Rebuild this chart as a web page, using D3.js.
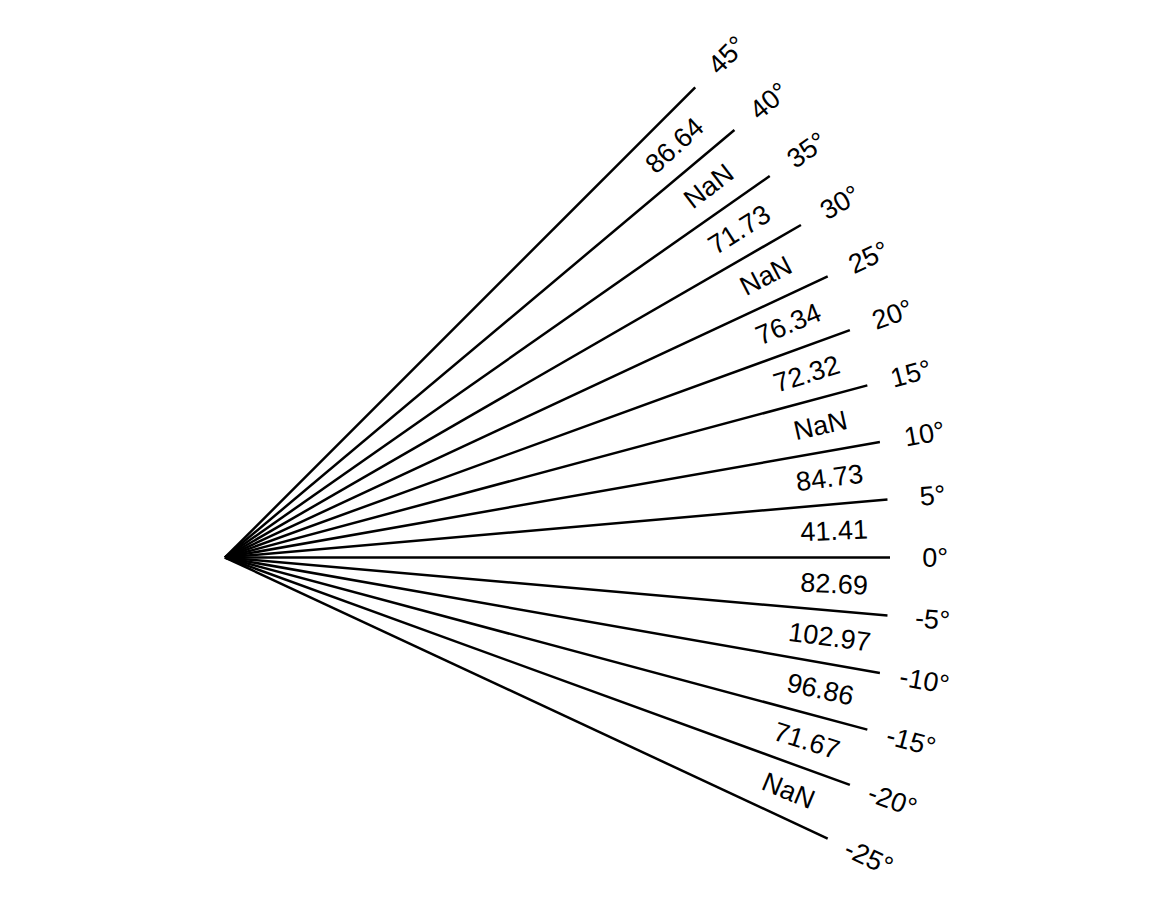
<!DOCTYPE html>
<html>
<head>
<meta charset="utf-8">
<script src="https://cdn.jsdelivr.net/npm/d3@7"></script>
<style>
html, body { margin: 0; padding: 0; background: #fff; }
svg { display: block; }
</style>
</head>
<body>
<svg id="chart" width="1152" height="921"></svg>
<script>
// Ray angles (degrees, counter-clockwise from east)
const angles = [-25, -20, -15, -10, -5, 0, 5, 10, 15, 20, 25, 30, 35, 40, 45];
// Angle tick labels
const angleLabels = ["-25°", "-20°", "-15°", "-10°", "-5°", "0°", "5°", "10°", "15°", "20°", "25°", "30°", "35°", "40°", "45°"];
// Values between consecutive rays (from -25..-20 up to 40..45)
const sectorValues = ["NaN", "71.67", "96.86", "102.97", "82.69", "41.41", "84.73", "NaN", "72.32", "76.34", "NaN", "71.73", "NaN", "86.64"];

const svg = d3.select("#chart");
const cx = 225, cy = 557.5;
const g = svg.append("g").attr("transform", `translate(${cx},${cy})`);

const rad = d3.scaleLinear().domain([0, 180]).range([0, Math.PI]);
const r = d3.scaleLinear().domain([0, 1]).range([0, 665]);

function pt(a, rr) {
  return d3.pointRadial(Math.PI / 2 - rad(a), rr);
}

// Rays
g.selectAll("line.ray")
  .data(angles)
  .join("line")
  .attr("class", "ray")
  .attr("x1", 0).attr("y1", 0)
  .attr("x2", d => pt(d, r(1))[0])
  .attr("y2", d => pt(d, r(1))[1])
  .attr("stroke", "#000")
  .attr("stroke-width", 2.5);

const font = "'Liberation Sans', Arial, Helvetica, sans-serif";

// Angle labels
g.selectAll("text.alabel")
  .data(angles)
  .join("text")
  .attr("class", "alabel")
  .attr("transform", d => {
    const p = pt(d, r(1.068));
    return `translate(${p[0]},${p[1]}) rotate(${-d})`;
  })
  .attr("text-anchor", "middle")
  .attr("dominant-baseline", "central")
  .style("font-family", font)
  .style("font-size", "27px")
  .text((d, i) => angleLabels[i]);

// Sector value labels
const mids = sectorValues.map((v, i) => ({ v, a: (angles[i] + angles[i + 1]) / 2 }));
g.selectAll("text.vlabel")
  .data(mids)
  .join("text")
  .attr("class", "vlabel")
  .attr("transform", d => {
    const p = pt(d.a, r(0.917));
    return `translate(${p[0]},${p[1]}) rotate(${-d.a})`;
  })
  .attr("text-anchor", "middle")
  .attr("dominant-baseline", "central")
  .style("font-family", font)
  .style("font-size", "27px")
  .text(d => d.v);
</script>
</body>
</html>
